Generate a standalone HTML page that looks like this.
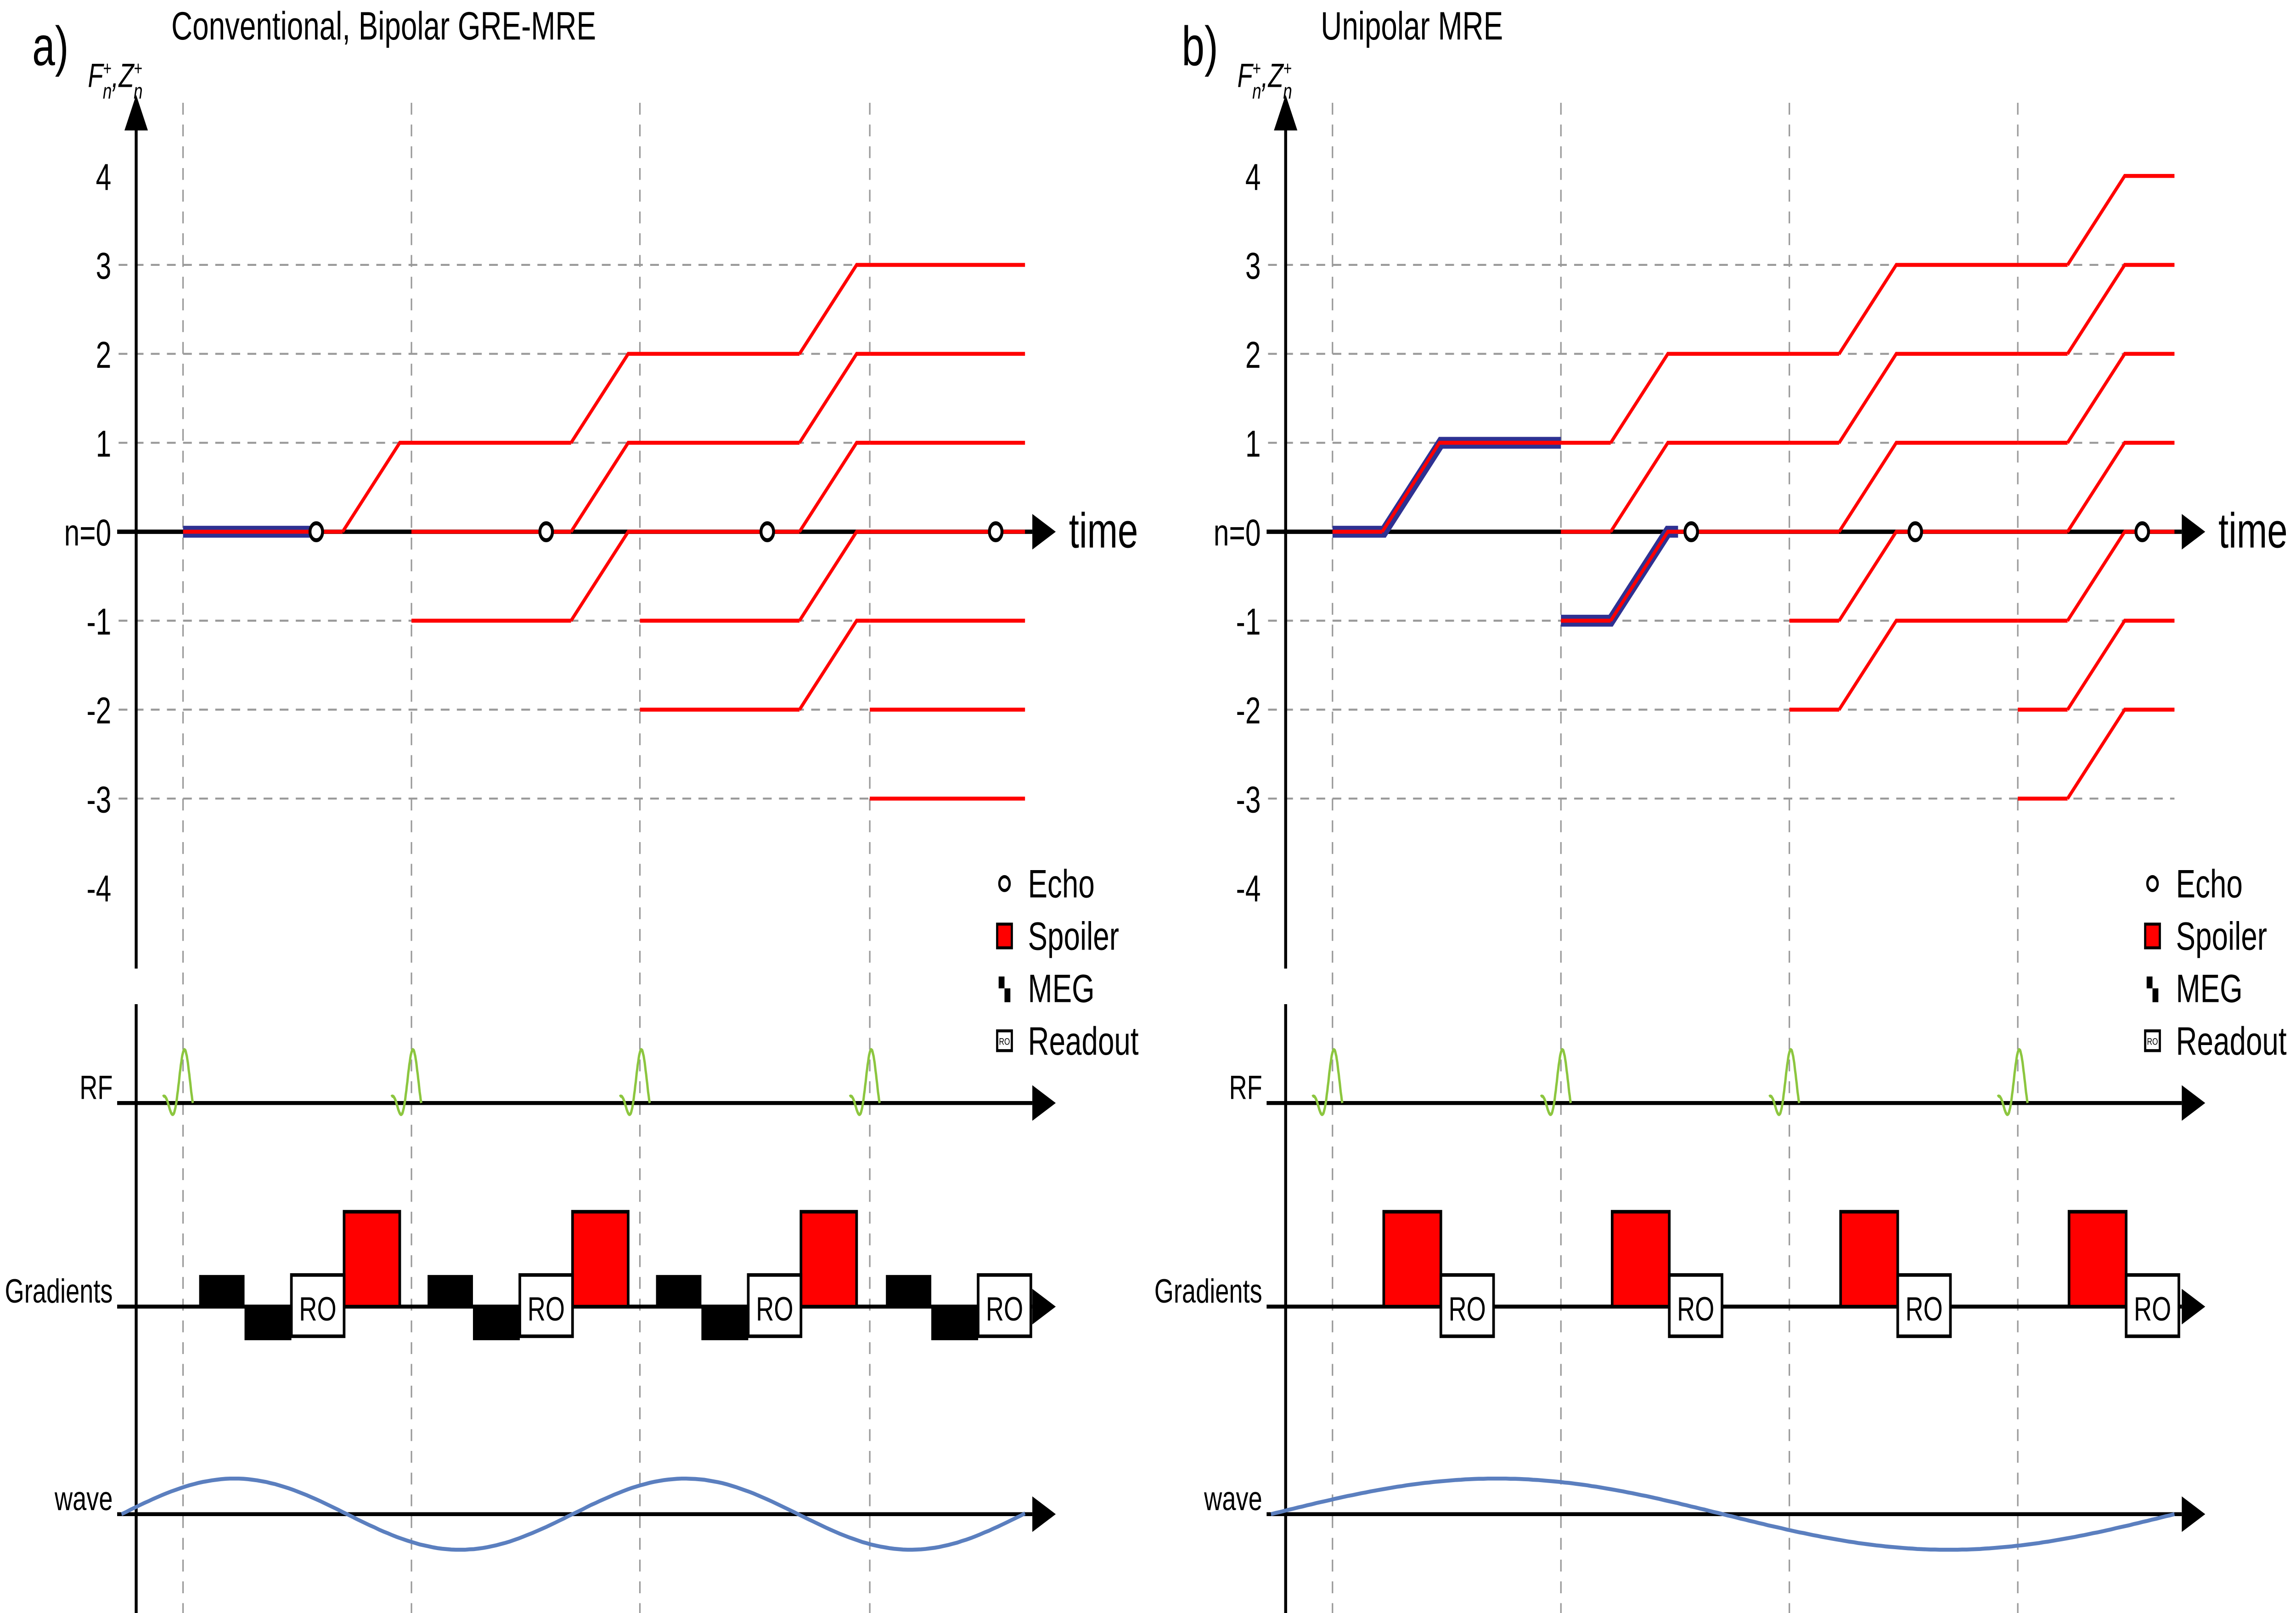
<!DOCTYPE html>
<html><head><meta charset="utf-8">
<style>
html,body{margin:0;padding:0;background:#fff;width:100%;height:100%;overflow:hidden;}
svg{display:block;width:100vw;height:100vh;}
text{font-family:"Liberation Sans Narrow","Liberation Sans",sans-serif;fill:#000;}
</style></head>
<body>
<svg id="fig" xmlns="http://www.w3.org/2000/svg" viewBox="0 0 1568 816" preserveAspectRatio="none"></svg>
<script>
// ---- data ----
const levelTicks = [4,3,2,1,0,-1,-2,-3,-4];
const tickLabels = ["4","3","2","1","n=0","-1","-2","-3","-4"];
const gridLevels = [3,2,1,-1,-2,-3];
const rfTimesA = [125,281,437,594];
const rfTimesB = [910,1066,1222,1378];
const preLevels = [[0],[1,0,-1],[2,1,0,-1,-2],[3,2,1,0,-1,-2,-3]];
const echoTimesA = [216,373,524,680];
const echoTimesB = [1155,1308,1463];
const blueA = [[[125,0],[216,0]]];
const blueB = [[[910,0],[945,0],[984,1],[1066,1]],[[1066,-1],[1100,-1],[1139,0],[1146,0]]];
const waveA = [83, 308, 18];   // start, period, amplitude
const waveB = [868, 617, 18];
const legendItems = ["Echo","Spoiler","MEG","Readout"];

const NS="http://www.w3.org/2000/svg";
const svg=document.getElementById('fig');
function el(tag,attrs,parent){const e=document.createElementNS(NS,tag);for(const k in attrs)e.setAttribute(k,attrs[k]);(parent||svg).appendChild(e);return e;}
const yL = n => 269 - 45*n;

function panel(p){
  const g=el('g',{});
  
  
  const ax=p.axisX;
  gridLevels.forEach(n=>{
    const l=el('line',{x1:ax-12,x2:p.end,y1:yL(n),y2:yL(n),stroke:'#999','stroke-width':1,'stroke-dasharray':'6,5'},g);
    
    
  });
  p.rf.forEach((x,i)=>{
    const l=el('line',{x1:x,x2:x,y1:52,y2:816,stroke:'#999','stroke-width':1,'stroke-dasharray':'6,5'},g);
    
    
  });
  levelTicks.forEach((n,i)=>{
    const t=el('text',{x:ax-17,y:yL(n)+7,'text-anchor':'end','font-size':19},g);
    t.textContent=tickLabels[i];
    
    
  });
  const ta=el('line',{x1:ax-13,x2:ax+612,y1:269,y2:269,stroke:'#000','stroke-width':2.2},g);
  
  
  const tarr=el('polygon',{points:`${ax+612},260 ${ax+628},269 ${ax+612},278`,fill:'#000'},g);
  
  
  const tt=el('text',{x:ax+637,y:277,'font-size':25,'font-family':'Liberation Sans'},g);
  tt.textContent='time';
  
  
  const ya=el('line',{x1:ax,x2:ax,y1:62,y2:490,stroke:'#000','stroke-width':2},g);
  
  
  const yarr=el('polygon',{points:`${ax},48 ${ax-8},66 ${ax+8},66`,fill:'#000'},g);
  
  
  const ya2=el('line',{x1:ax,x2:ax,y1:508,y2:816,stroke:'#000','stroke-width':2},g);
  
  
  const pl=el('text',{x:ax-71,y:33,'font-size':28,'font-family':'Liberation Sans'},g);
  pl.textContent=p.label;
  
  
  const ti=el('text',{x:ax+24,y:20,'font-size':20},g);
  ti.textContent=p.title;
  
  
  const yt=el('text',{x:ax-33,y:44,'font-size':17,'font-style':'italic'},g);
  yt.innerHTML='F<tspan dy="-6" font-size="10" font-style="normal">+</tspan><tspan dx="-6" dy="12" font-size="11">n</tspan><tspan dy="-6">,Z</tspan><tspan dy="-6" font-size="10" font-style="normal">+</tspan><tspan dx="-6" dy="12" font-size="11">n</tspan>';
  
  
  p.blue.forEach(path=>{
    const b=el('polyline',{points:path.map(q=>q[0]+','+yL(q[1])).join(' '),fill:'none',stroke:'#2e3192','stroke-width':6},g);
    
    
  });
  const r0=p.ramp[0], r1=p.ramp[1];
  p.rf.forEach((x,k)=>{
    const next = k<p.rf.length-1 ? p.rf[k+1] : p.end;
    preLevels[k].forEach(n=>{
      const rs=Math.min(x+r0,p.end);
      const s=el('line',{x1:x,x2:rs,y1:yL(n),y2:yL(n),stroke:'#f00','stroke-width':2},g);
      
      
      if(x+r1<=p.end){
        const r=el('polyline',{points:`${x+r0},${yL(n)} ${x+r1},${yL(n+1)} ${next},${yL(n+1)}`,fill:'none',stroke:'#f00','stroke-width':2},g);
        
        
      }
    });
  });
  p.echo.forEach(x=>{
    const c=el('circle',{cx:x,cy:269,r:4.3,fill:'#fff',stroke:'#000','stroke-width':2},g);
    
    
  });
  const lx=p.legendX;
  legendItems.forEach((name,i)=>{
    const y=447+26.5*i;
    let m;
    if(i===0) m=el('circle',{cx:lx,cy:y,r:3.5,fill:'#fff',stroke:'#000','stroke-width':1.6},g);
    if(i===1) m=el('rect',{x:lx-5,y:y-6,width:10,height:12,fill:'#f00',stroke:'#000','stroke-width':1.5},g);
    if(i===2){m=el('g',{},g);el('rect',{x:lx-4,y:y-6,width:4,height:6,fill:'#000'},m);el('rect',{x:lx,y:y,width:4,height:7,fill:'#000'},m);}
    if(i===3){m=el('g',{},g);el('rect',{x:lx-5,y:y-5,width:10,height:10,fill:'#fff',stroke:'#000','stroke-width':1.5},m);el('text',{x:lx,y:y+2,'font-size':5,'text-anchor':'middle'},m).textContent='RO';}
    
    
    const t=el('text',{x:lx+16,y:y+7,'font-size':20,'font-family':'Liberation Sans'},g);
    t.textContent=name;
    
    
  });
  const rows=[['RF',558],['Gradients',661],['wave',766]];
  rows.forEach(([lab,y])=>{
    const l=el('line',{x1:ax-13,x2:ax+612,y1:y,y2:y,stroke:'#000','stroke-width':2},g);
    
    
    const a=el('polygon',{points:`${ax+612},${y-9} ${ax+628},${y} ${ax+612},${y+9}`,fill:'#000'},g);
    
    
    const t=el('text',{x:ax-16,y:y-2,'text-anchor':'end','font-size':17,'font-family':'Liberation Sans'},g);
    t.textContent=lab;
    
    
  });
  p.rf.forEach(x=>{
    let pts=[];
    for(let i=0;i<=60;i++){
      const u=-2.6*Math.PI + i*(3.6*Math.PI/60);
      const s= Math.abs(u)<1e-6?1:Math.sin(u)/u;
      pts.push((x+1+u*1.8).toFixed(1)+','+(558-27*s).toFixed(1));
    }
    const r=el('polyline',{points:pts.join(' '),fill:'none',stroke:'#8cc63f','stroke-width':1.6},g);
    
    
  });
  p.rf.forEach(x=>{
    if(p.bipolar){
      const m1=el('rect',{x:x+11,y:645,width:31,height:16,fill:'#000'},g);
      
      
      const m2=el('rect',{x:x+42,y:661,width:32,height:17,fill:'#000'},g);
      
      
    }
    if(x+p.spoil[0]+p.spoil[1]<=p.end){
      const sp=el('rect',{x:x+p.spoil[0],y:613,width:p.spoil[1],height:48,fill:'#f00',stroke:'#000','stroke-width':1.8},g);
      
      
    }
    const ro=el('rect',{x:x+74,y:645,width:36,height:31,fill:'#fff',stroke:'#000','stroke-width':1.8},g);
    
    
    const rt=el('text',{x:x+92,y:668,'text-anchor':'middle','font-size':17},g);
    rt.textContent='RO';
    
    
  });
  const [w0,wp,wa]=p.wave;
  let pts=[];
  for(let i=0;i<=200;i++){const x=w0+i*(p.end-w0)/200;pts.push(x.toFixed(1)+','+(766-wa*Math.sin(2*Math.PI*(x-w0)/wp)).toFixed(1));}
  const w=el('polyline',{points:pts.join(' '),fill:'none',stroke:'#5b7fbf','stroke-width':2},g);
  
  
}
panel({name:'panel-a-bipolar',axisX:93,rf:rfTimesA,ramp:[109,148],end:700,echo:echoTimesA,blue:blueA,label:'a)',title:'Conventional, Bipolar GRE-MRE',legendX:686,bipolar:true,spoil:[110,38],wave:waveA});
panel({name:'panel-b-unipolar',axisX:878,rf:rfTimesB,ramp:[34,73],end:1485,echo:echoTimesB,blue:blueB,label:'b)',title:'Unipolar MRE',legendX:1470,bipolar:false,spoil:[35,39],wave:waveB});
</script>
</body></html>
